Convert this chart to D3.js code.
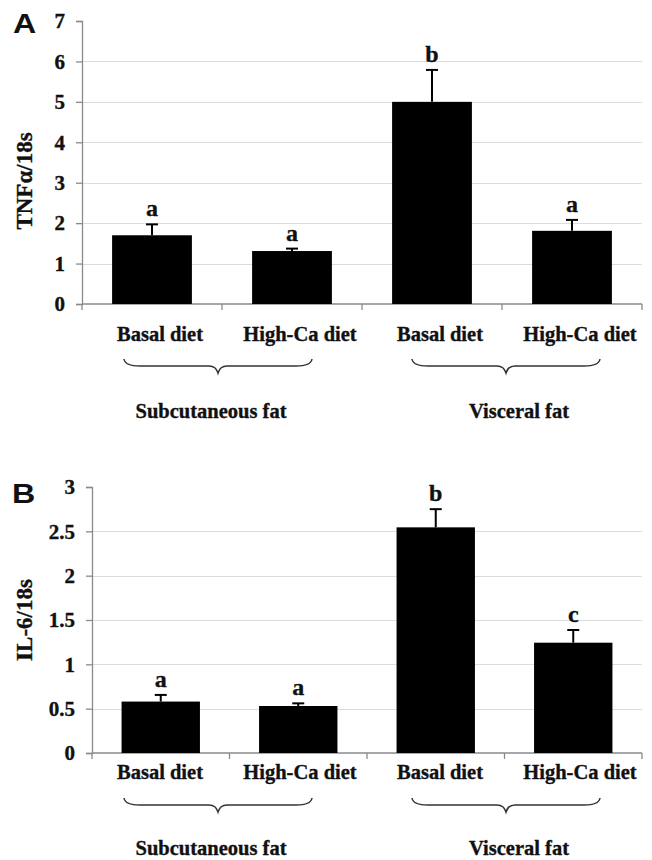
<!DOCTYPE html>
<html>
<head>
<meta charset="utf-8">
<script src="https://cdn.jsdelivr.net/npm/d3@7"></script>
<style>
  html, body { margin: 0; padding: 0; background: #fff; }
  svg { display: block; }
  .serif { font-family: "Liberation Serif", "Times New Roman", serif; font-weight: bold; fill: #111; stroke: #111; stroke-width: 0.35px; }
  .panel-tag { font-family: "Liberation Sans", Arial, sans-serif; font-weight: bold; fill: #111; }
</style>
</head>
<body>
<script>
// Diet groups (x categories) and fat depots
const categoryKeys = ["sc-basal", "sc-hica", "vis-basal", "vis-hica"];
const categoryLabels = ["Basal diet", "High-Ca diet", "Basal diet", "High-Ca diet"];
const depotNames = ["Subcutaneous fat", "Visceral fat"];
const depotMembers = [["sc-basal", "sc-hica"], ["vis-basal", "vis-hica"]];

// Panel A: TNFα mRNA relative to 18s
const tnfMean = [1.70, 1.31, 5.00, 1.81];
const tnfSem = [0.27, 0.06, 0.79, 0.27];
const tnfLetters = ["a", "a", "b", "a"];
const tnfTicks = [0, 1, 2, 3, 4, 5, 6, 7];
const tnfTickLabels = ["0", "1", "2", "3", "4", "5", "6", "7"];

// Panel B: IL-6 mRNA relative to 18s
const il6Mean = [0.58, 0.53, 2.545, 1.244];
const il6Sem = [0.075, 0.03, 0.205, 0.143];
const il6Letters = ["a", "a", "b", "c"];
const il6Ticks = [0, 0.5, 1, 1.5, 2, 2.5, 3];
const il6TickLabels = ["0", "0.5", "1", "1.5", "2", "2.5", "3"];

const W = 652, H = 860;
const svg = d3.select("body").append("svg")
  .attr("width", W).attr("height", H)
  .attr("viewBox", `0 0 ${W} ${H}`);
svg.append("rect").attr("width", W).attr("height", H).attr("fill", "#fff");

const AXIS_COLOR = "#8a8a8a";
const GRID_COLOR = "#dcdcdc";

// Shared horizontal layout for category labels and depot braces
const labelScale = d3.scaleBand().domain(categoryKeys).range([82, 642]).paddingInner(0.43).paddingOuter(0.215);

function drawPanel(cfg) {
  const g = svg.append("g");
  const x = d3.scaleBand().domain(categoryKeys).range([cfg.left, 642])
    .paddingInner(0.43).paddingOuter(0.215);
  const y = d3.scaleLinear().domain([cfg.ticks[0], cfg.ticks[cfg.ticks.length - 1]])
    .range([cfg.bottom, cfg.top]);

  // gridlines (skip baseline and top tick)
  g.append("g").selectAll("line")
    .data(cfg.ticks.slice(1, -1))
    .join("line")
    .attr("x1", cfg.left).attr("x2", 642)
    .attr("y1", d => Math.round(y(d)) + 0.5).attr("y2", d => Math.round(y(d)) + 0.5)
    .attr("stroke", GRID_COLOR).attr("stroke-width", 1.2);

  // y axis
  const yAxis = d3.axisLeft(y).tickValues(cfg.ticks)
    .tickFormat((d, i) => cfg.tickLabels[i]).tickSize(6).tickPadding(11);
  const ya = g.append("g").attr("transform", `translate(${cfg.left},0)`).call(yAxis);
  ya.select(".domain").attr("stroke", AXIS_COLOR).attr("stroke-width", 1.3);
  ya.selectAll(".tick line").attr("stroke", AXIS_COLOR).attr("stroke-width", 1.3);
  ya.selectAll(".tick text").attr("class", "serif").attr("font-size", 21);

  // x axis: baseline with boundary ticks
  const bounds = categoryKeys.map(k => x(k) - x.step() * x.paddingInner() / 2)
    .concat([642]);
  bounds[0] = cfg.left;
  g.append("line").attr("x1", cfg.left).attr("x2", 642)
    .attr("y1", y(0)).attr("y2", y(0))
    .attr("stroke", AXIS_COLOR).attr("stroke-width", 1.3);
  g.append("g").selectAll("line").data(bounds).join("line")
    .attr("x1", d => d).attr("x2", d => d)
    .attr("y1", y(0)).attr("y2", y(0) + 6)
    .attr("stroke", AXIS_COLOR).attr("stroke-width", 1.3);

  // bars
  g.append("g").selectAll("rect")
    .data(categoryKeys)
    .join("rect")
    .attr("x", d => x(d)).attr("width", x.bandwidth())
    .attr("y", (d, i) => y(cfg.mean[i]))
    .attr("height", (d, i) => y(0) - y(cfg.mean[i]))
    .attr("fill", "#000");

  // error bars (upper only)
  const eb = g.append("g").attr("stroke", "#000").attr("stroke-width", 2);
  categoryKeys.forEach((k, i) => {
    const cx = x(k) + x.bandwidth() / 2;
    const top = y(cfg.mean[i] + cfg.sem[i]);
    eb.append("line").attr("x1", cx).attr("x2", cx).attr("y1", y(cfg.mean[i])).attr("y2", top);
    eb.append("line").attr("x1", cx - 6).attr("x2", cx + 6).attr("y1", top).attr("y2", top);
  });

  // significance letters
  g.append("g").selectAll("text")
    .data(categoryKeys)
    .join("text")
    .attr("class", "serif")
    .attr("font-size", 24)
    .attr("text-anchor", "middle")
    .attr("x", d => x(d) + x.bandwidth() / 2)
    .attr("y", (d, i) => y(cfg.mean[i] + cfg.sem[i]) - 8)
    .text((d, i) => cfg.letters[i]);

  // category labels
  g.append("g").selectAll("text")
    .data(categoryKeys)
    .join("text")
    .attr("class", "serif")
    .attr("font-size", 20.5)
    .attr("text-anchor", "middle")
    .attr("x", d => labelScale(d) + labelScale.bandwidth() / 2 + 8)
    .attr("y", cfg.labelBaseline)
    .text((d, i) => categoryLabels[i]);

  // depot braces and names
  const labelShift = [-7, 13];
  depotMembers.forEach((members, gi) => {
    const a = labelScale(members[0]) + labelScale.bandwidth() / 2;
    const b = labelScale(members[members.length - 1]) + labelScale.bandwidth() / 2;
    const cx = (a + b) / 2 + (gi === 0 ? -4 : 4);
    const hw = 94;
    const y0 = cfg.braceTop, y1 = y0 + 7, y2 = y0 + 14;
    const p = d3.path();
    p.moveTo(cx - hw, y0);
    p.quadraticCurveTo(cx - hw + 1, y1, cx - hw + 16, y1);
    p.lineTo(cx - 9, y1);
    p.quadraticCurveTo(cx - 2, y1, cx, y2);
    p.quadraticCurveTo(cx + 2, y1, cx + 9, y1);
    p.lineTo(cx + hw - 16, y1);
    p.quadraticCurveTo(cx + hw - 1, y1, cx + hw, y0);
    g.append("path").attr("d", p.toString())
      .attr("fill", "none").attr("stroke", "#333").attr("stroke-width", 1.5);
    g.append("text")
      .attr("class", "serif")
      .attr("font-size", 20.5)
      .attr("text-anchor", "middle")
      .attr("x", cx + labelShift[gi])
      .attr("y", cfg.depotBaseline)
      .text(depotNames[gi]);
  });

  // y axis title
  g.append("text")
    .attr("class", "serif")
    .attr("font-size", 23)
    .attr("text-anchor", "middle")
    .attr("transform", `translate(${cfg.titleX},${cfg.titleY}) rotate(-90)`)
    .text(cfg.title);

  // panel tag
  g.append("text")
    .attr("class", "panel-tag")
    .attr("font-size", 28)
    .attr("transform", `translate(${cfg.tagX},${cfg.tagY}) scale(1.15,1)`)
    .text(cfg.tag);
}

drawPanel({
  left: 82, top: 21, bottom: 304,
  ticks: tnfTicks, tickLabels: tnfTickLabels,
  mean: tnfMean, sem: tnfSem, letters: tnfLetters,
  labelBaseline: 341, braceTop: 359, depotBaseline: 418,
  title: "TNFα/18s", titleX: 32, titleY: 181,
  tag: "A", tagX: 13, tagY: 33
});

drawPanel({
  left: 92, top: 487, bottom: 753,
  ticks: il6Ticks, tickLabels: il6TickLabels,
  mean: il6Mean, sem: il6Sem, letters: il6Letters,
  labelBaseline: 779, braceTop: 798, depotBaseline: 855,
  title: "IL-6/18s", titleX: 32, titleY: 620,
  tag: "B", tagX: 12, tagY: 503
});
</script>
</body>
</html>
